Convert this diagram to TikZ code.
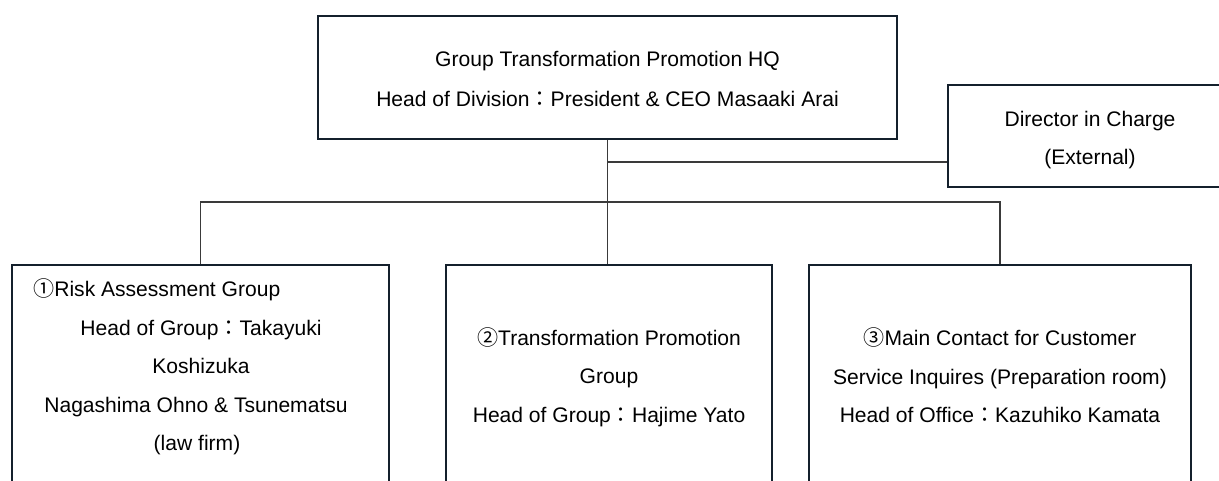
\documentclass[tikz,border=0pt]{standalone}
\usepackage{fontspec}
\setmainfont{Liberation Sans}
\newfontfamily\cjk{Noto Sans CJK JP}
\newcommand{\fc}{{\cjk ：}}
\newcommand{\cn}[1]{{\cjk #1}}
\definecolor{boxc}{HTML}{14202C}
\definecolor{connc}{HTML}{3A3A3A}
\begin{document}
\begin{tikzpicture}[x=0.75pt,y=-0.75pt,
  box/.style={draw=boxc, line width=2pt, rectangle, inner sep=0pt, fill=white},
  conn/.style={draw=connc, line width=1.1pt},
  txt/.style={anchor=base, inner sep=0pt, font=\fontsize{15.8pt}{18pt}\selectfont, text=black}]
\path[use as bounding box] (0,0) rectangle (1219,481);
\fill[white] (0,0) rectangle (1219,481);
\begin{scope}
\clip (0,0) rectangle (1219,481);
% boxes
\node[box, minimum width={579*0.75pt}, minimum height={123*0.75pt}] (hq) at (607.5,77.5) {};
\node[box, minimum width={284*0.75pt}, minimum height={102*0.75pt}] (dir) at (1090,136) {};
\node[box, minimum width={377*0.75pt}, minimum height={255*0.75pt}] (g1) at (200.5,392.5) {};
\node[box, minimum width={326*0.75pt}, minimum height={255*0.75pt}] (g2) at (609,392.5) {};
\node[box, minimum width={382*0.75pt}, minimum height={255*0.75pt}] (g3) at (1000,392.5) {};
% connectors
\coordinate (j1) at (607.5,162);
\coordinate (bus) at (607.5,202);
\draw[conn] (hq.south) -- (hq.south |- g2.north);
\draw[conn] (j1) -- (j1 -| dir.west);
\draw[conn] (g1.north) -- (g1.north |- bus) -- (g3.north |- bus) -- (g3.north);
% texts
\node[txt] (t1) at (607.5,67) {Group Transformation Promotion HQ};
\node[txt] (t2) at (607.5,107) {Head of Division\fc President \& CEO Masaaki Arai};
\node[txt] (t3) at (1090,127) {Director in Charge};
\node[txt] (t4) at (1090,165) {(External)};
\node[txt, anchor=base west] (a1) at (33,296) {\cn{①}Risk Assessment Group};
\node[txt] (a2) at (201,335) {Head of Group\fc Takayuki};
\node[txt] (a3) at (201,373) {Koshizuka};
\node[txt] (a4) at (196,412) {Nagashima Ohno \& Tsunematsu};
\node[txt] (a5) at (197,450) {(law firm)};
\node[txt] (b1) at (609,345) {\cn{②}Transformation Promotion};
\node[txt] (b2) at (609,383) {Group};
\node[txt] (b3) at (609,422) {Head of Group\fc Hajime Yato};
\node[txt] (c1) at (1000,345) {\cn{③}Main Contact for Customer};
\node[txt] (c2) at (1000,384) {Service Inquires (Preparation room)};
\node[txt] (c3) at (1000,422) {Head of Office\fc Kazuhiko Kamata};
\end{scope}
\end{tikzpicture}
\end{document}
